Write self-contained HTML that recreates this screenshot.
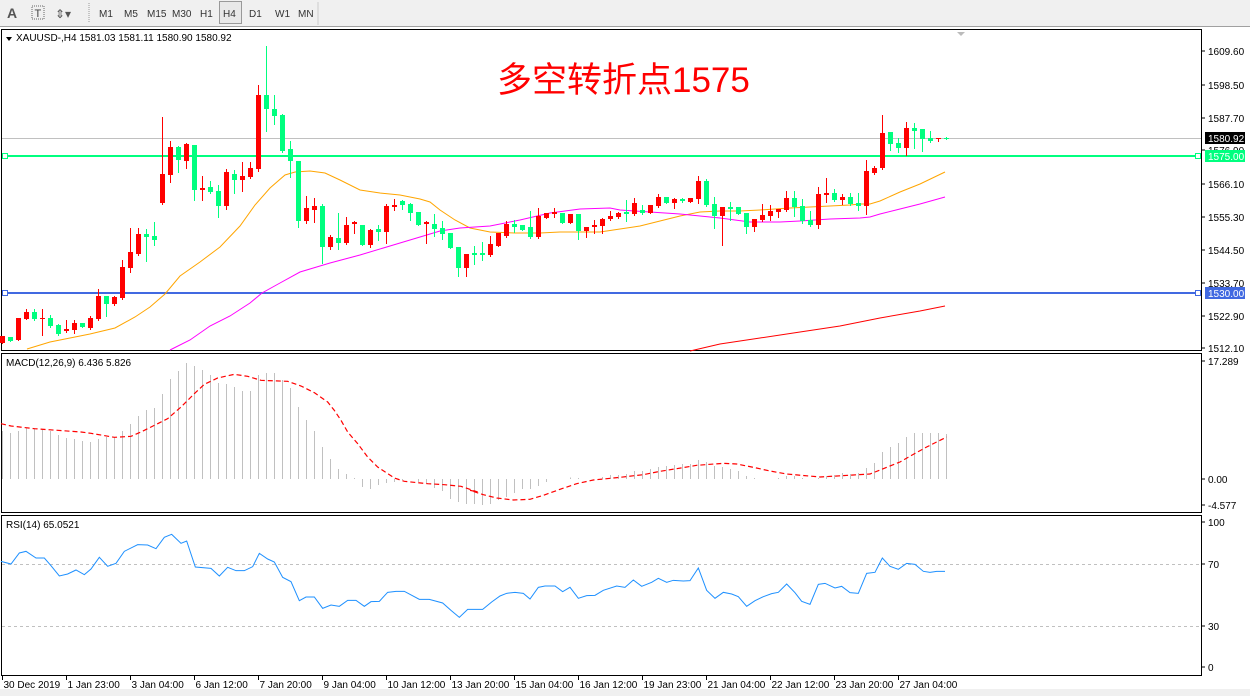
<!DOCTYPE html>
<html><head><meta charset="utf-8">
<style>
body{margin:0;width:1250px;height:696px;overflow:hidden;background:#fff;font-family:"Liberation Sans","Noto Sans CJK SC",sans-serif;}
svg{position:absolute;left:0;top:0}
</style></head><body>
<svg id="s" width="1250" height="696" xmlns="http://www.w3.org/2000/svg" font-family="Liberation Sans, sans-serif" font-size="10">
<rect x="0" y="0" width="1250" height="27" fill="#f0f0f0"/>
<line x1="0" y1="26.5" x2="1250" y2="26.5" stroke="#a0a0a0"/>
<text x="7" y="18" font-size="14" fill="#555" font-weight="bold">A</text>
<rect x="32" y="6" width="12" height="13" fill="none" stroke="#666" stroke-dasharray="1,1"/>
<text x="34.5" y="17" font-size="11" fill="#444">T</text>
<text x="55" y="18" font-size="12" fill="#555">⇕▾</text>
<line x1="89" y1="3" x2="89" y2="23" stroke="#999" stroke-dasharray="1,1"/>
<g font-size="10" fill="#333">
<text x="99" y="17">M1</text><text x="124" y="17">M5</text><text x="147" y="17">M15</text><text x="172" y="17">M30</text><text x="200" y="17">H1</text>
<rect x="219.5" y="1.5" width="22" height="22" fill="#e8e8e8" stroke="#999"/><text x="223" y="17">H4</text>
<text x="249" y="17">D1</text><text x="275" y="17">W1</text><text x="298" y="17">MN</text>
</g>
<line x1="318" y1="2" x2="318" y2="25" stroke="#ccc"/>
<rect x="0" y="689" width="1250" height="7" fill="#f0f0f0"/>
<g fill="none" stroke="#000">
<rect x="1.5" y="29.5" width="1200" height="321"/>
<rect x="1.5" y="353.5" width="1200" height="159"/>
<rect x="1.5" y="515.5" width="1200" height="160"/>
</g>
<g id="dyn"></g>
<text x="497" y="92" font-size="35" fill="#ff0000" font-family="Liberation Sans, Noto Sans CJK SC, sans-serif">多空转折点1575</text>
<path d="M957 32 L965 32 L961 36 Z" fill="#bbb"/>
<path d="M6 37 L12 37 L9 41 Z" fill="#000"/>
<text x="16" y="41" font-size="10">XAUUSD-,H4  1581.03 1581.11 1580.90 1580.92</text>
<text x="6" y="366" font-size="10">MACD(12,26,9) 6.436 5.826</text>
<text x="6" y="528" font-size="10">RSI(14) 65.0521</text>
</svg>
<script>
var g=document.getElementById('dyn'),out='';
function X(i){return 2.5+8*i;}
var pl=[[1609.60,51],[1598.50,85],[1587.70,118],[1576.90,150],[1566.10,184],[1555.30,217],[1544.50,250],[1533.70,283],[1522.90,316],[1512.10,348]];
pl.forEach(function(p){out+='<line x1="1202" y1="'+p[1]+'" x2="1205" y2="'+p[1]+'" stroke="#000"/><text x="1208" y="'+(p[1]+4)+'">'+p[0].toFixed(2)+'</text>';});
out+='<line x1="2" y1="138.5" x2="1201" y2="138.5" stroke="#c0c0c0"/>';
out+='<line x1="2" y1="156" x2="1201" y2="156" stroke="#00ff7f" stroke-width="2"/>';
out+='<line x1="2" y1="293" x2="1201" y2="293" stroke="#4169e1" stroke-width="2"/>';
[[156,'#00ff7f'],[293,'#4169e1']].forEach(function(a){out+='<rect x="2.5" y="'+(a[0]-2.5)+'" width="5" height="5" fill="#fff" stroke="'+a[1]+'"/><rect x="1195.5" y="'+(a[0]-2.5)+'" width="5" height="5" fill="#fff" stroke="'+a[1]+'"/>';});
out+='<rect x="1205" y="132" width="40" height="12" fill="#000"/><text x="1208" y="142" fill="#fff">1580.92</text>';
out+='<rect x="1205" y="150" width="40" height="12" fill="#00ff7f"/><text x="1208" y="160" fill="#fff">1575.00</text>';
out+='<rect x="1205" y="287" width="40" height="12" fill="#4169e1"/><text x="1208" y="297" fill="#fff">1530.00</text>';
function pl2(pts,col,w,extra){out+='<polyline fill="none" stroke="'+col+'" stroke-width="'+(w||1)+'" '+(extra||'')+' points="'+pts.map(function(p){return p.join(',')}).join(' ')+'"/>';}
pl2([[27,349],[50,342],[70,338],[90,334],[115,328],[135,317],[150,307],[165,294],[180,276],[200,262],[220,247],[240,226],[255,205],[270,188],[285,175],[295,172],[310,171],[325,173],[340,180],[360,190],[380,193],[400,195],[420,199],[430,202],[440,210],[455,220],[470,228],[490,232],[515,233],[540,233],[560,232],[600,232],[620,229],[640,226],[660,221],[680,216],[700,212],[720,211],[740,211],[760,210],[790,208],[810,207],[830,206],[850,205],[860,204],[870,204],[880,201],[900,192],[920,184],[945,172]],'#ffa500');
pl2([[170,350],[190,340],[210,326],[230,316],[250,303],[262,293],[280,283],[300,272],[330,263],[360,255],[390,246],[420,237],[440,231],[460,228],[490,226],[520,220],[550,213],[580,209],[610,208],[620,210],[650,212],[680,214],[700,216],[720,218],[735,220],[750,222],[780,222],[800,221],[830,219],[860,218],[870,217],[880,214],[900,209],[920,204],[945,197]],'#ff00ff');
pl2([[690,351],[720,344],[760,338],[800,332],[840,326],[880,318],[920,311],[945,306]],'#ff0000');
var c=[['r',336,343],['g',337,341],['r',318,340],['r',312,319,309,319],['g',312,319,309,320],['r',318,319,309,335],['g',318,326,315,327],['g',325,334,324,335],['r',329,331,320,332],['r',323,330,320,333],['g',323,327],['r',318,328,316,329],['r',296,319,289,320],['g',296,304,296,316],['r',297,304,296,305],['r',267,298,260,299],['r',252,268,228,272],['r',234,254,228,255],['g',234,237,229,261],['g',236,240,222,245],['r',174,203,117,204],['r',147,175,141,182],['g',147,160,146,172],['r',144,161,143,168],['g',145,190,145,200],['r',188,190,176,200],['g',187,192,181,193],['g',191,206,185,217],['r',172,206,169,209],['g',174,180,170,193],['r',176,180,162,191],['r',168,177,162,178],['r',95,169,85,171],['g',95,109,46,131],['g',109,116,95,124],['g',115,151,114,152],['g',149,161,141,177],['g',161,221,161,227],['r',208,221,196,223],['r',206,210,198,222],['g',206,247,204,263],['r',237,247,235,249],['g',238,243,213,249],['r',225,243,217,244],['r',222,224,221,233],['g',225,245],['r',230,245,229,247],['g',229,232,225,240],['r',206,232,204,243],['r',205,207,199,210],['g',201,205,200,209],['g',204,213,203,220],['g',212,225],['r',222,224,221,243],['g',224,229,214,236],['g',228,234,221,239],['g',233,248],['g',247,268,247,276],['r',254,268,254,276],['g',253,255,246,264],['g',253,255,242,260],['r',244,255,236,256],['r',233,246],['r',224,236,221,237],['g',224,227,220,232],['g',225,230],['g',227,237,211,238],['r',216,237,208,238],['r',213,218],['r',212,214,208,217],['g',213,223],['r',214,223],['g',214,231,214,239],['r',227,231,227,237],['r',225,227,220,233],['r',219,226,218,233],['r',216,219,211,220],['r',213,217,212,218],['g',212,214,200,221],['r',203,214,198,215],['g',210,213,205,214],['r',205,213],['r',197,206,194,207],['g',197,203],['r',199,203,198,208],['g',199,201,198,202],['r',198,202],['r',181,199,176,203],['g',181,205,179,206],['g',204,216,197,228],['r',207,216,207,245],['g',207,209,202,220],['g',207,214],['g',213,227,213,233],['r',219,227,219,231],['r',215,220,204,221],['r',211,216,205,220],['r',209,212,209,217],['r',198,210,191,211],['g',198,207,191,216],['g',206,221,199,223],['g',220,225,211,226],['r',194,225,187,228],['r',193,195,178,202],['g',193,200,189,201],['r',197,200,194,204],['g',197,204,193,205],['g',203,206,193,210],['r',171,206,160,214],['r',168,173,166,174],['r',133,168,115,169],['g',132,144,132,150],['g',143,148,138,152],['r',128,148,122,155],['g',128,131,123,148],['g',129,139,129,151],['g',138,141,131,142],['r',138,139,138,141],['g',138,139,137,139]];
c.forEach(function(d,i){var col=d[0]=='r'?'#ff0000':'#00ff7f',x=X(i),t=d[1],b=d[2],h=d.length>3?d[3]:t,l=d.length>3?d[4]:b;
out+='<line x1="'+x+'" y1="'+h+'" x2="'+x+'" y2="'+(l+1)+'" stroke="'+col+'"/>';
out+='<rect x="'+(x-2.5)+'" y="'+t+'" width="5" height="'+Math.max(1,b-t)+'" fill="'+col+'"/>';});
out+='<text x="1208" y="365">17.289</text><text x="1208" y="483">0.00</text><text x="1208" y="509">-4.577</text>';
[361,479,505].forEach(function(y){out+='<line x1="1202" y1="'+y+'" x2="1205" y2="'+y+'" stroke="#000"/>';});
var h=[431,433,431,428,428,429,431,435,438,439,441,442,439,437,437,431,424,416,410,408,394,379,371,363,366,370,375,383,384,387,391,391,375,373,373,380,388,407,420,431,447,459,469,474,478,487,489,485,483,482,480,479,482,483,488,491,499,502,504,504,505,504,500,497,493,489,489,486,482,479,479,477.5,478,479,479,477,475,475,474,471,471,469,467,466,465,464,464,460,462,466,467,469,471,476,478,479,479,478,476,476,478,479,478,476,475,473,474,473,468,463,452,447,443,437,433,433,433,433,434];
h.forEach(function(v,i){var x=X(i);if(Math.abs(v-479)<0.6)return;out+='<line x1="'+x+'" y1="'+Math.min(v,479)+'" x2="'+x+'" y2="'+Math.max(v,479)+'" stroke="#c0c0c0"/>';});
var s1=[[0,215],[30,222],[100,230],[170,235],[240,240],[270,244],[340,256],[390,253],[420,240],[470,215],[500,200],[540,165],[580,125],[610,97],[650,78],[700,67],[740,73],[780,85],[860,88],[900,102],[940,122],[980,150],[1000,175],[1020,205],[1040,240],[1070,275],[1100,315],[1130,345],[1180,378],[1210,388],[1280,395],[1330,398],[1380,403],[1430,420]].map(function(p){return [p[0]/3+1,352+p[1]/3];});
var s2=[[0,415],[40,428],[80,438],[130,444],[180,442],[220,430],[270,412],[320,395],[370,384],[450,376],[520,368],[570,358],[620,350],[680,340],[760,334],[800,336],[850,346],[900,357],[950,366],[1050,375],[1150,369],[1200,366],[1240,350],[1290,330],[1330,307],[1370,285],[1420,260],[1430,255]].map(function(p){return [470+p[0]/3,352+p[1]/3];});
pl2(s1.concat(s2),'#ff0000',1.2,'stroke-dasharray="5,3"');
out+='<line x1="2" y1="564.5" x2="1201" y2="564.5" stroke="#c0c0c0" stroke-dasharray="3,3"/><line x1="2" y1="626.5" x2="1201" y2="626.5" stroke="#c0c0c0" stroke-dasharray="3,3"/>';
[[100,522],[70,564],[30,626],[0,667]].forEach(function(a){out+='<line x1="1202" y1="'+a[1]+'" x2="1205" y2="'+a[1]+'" stroke="#000"/><text x="1208" y="'+(a[1]+4)+'">'+a[0]+'</text>';});
var r1=[[0,142],[30,150],[55,117],[75,112],[105,132],[130,132],[150,155],[175,186],[200,180],[225,168],[250,182],[270,165],[295,130],[320,157],[345,148],[370,112],[410,92],[440,93],[465,104],[490,70],[512,61],[540,88],[557,81],[583,159],[630,163],[655,186],[680,160],[705,170],[730,170],[755,158],[775,118],[800,135],[820,144],[845,190],[870,203],[895,260],[915,249],[940,249],[965,283],[990,273],[1015,277],[1040,259],[1065,259],[1090,277],[1110,263],[1135,262],[1160,235],[1185,232],[1210,232],[1255,256],[1285,256],[1325,267],[1350,289],[1375,310],[1400,286],[1410,286]].map(function(p){return [p[0]/3+1,514+p[1]/3];});
var r2=[[0,286],[38,286],[65,264],[90,246],[110,238],[135,235],[160,238],[180,255],[205,220],[225,216],[255,216],[278,233],[300,220],[325,253],[350,245],[375,244],[400,229],[440,216],[465,220],[490,198],[515,217],[545,205],[565,193],[590,205],[610,199],[640,201],[660,200],[685,162],[710,229],[735,253],[760,235],[785,240],[805,248],[830,277],[855,260],[880,248],[905,239],[925,235],[950,210],[975,236],[995,262],[1020,271],[1045,211],[1065,208],[1095,222],[1115,217],[1140,236],[1165,238],[1190,178],[1215,175],[1237,132],[1260,157],[1285,166],[1310,148],[1335,151],[1360,172],[1380,175],[1400,172],[1425,172]].map(function(p){return [470+p[0]/3,514+p[1]/3];});
pl2(r1.concat(r2),'#1e90ff',1);
var tl=['30 Dec 2019','1 Jan 23:00','3 Jan 04:00','6 Jan 12:00','7 Jan 20:00','9 Jan 04:00','10 Jan 12:00','13 Jan 20:00','15 Jan 04:00','16 Jan 12:00','19 Jan 23:00','21 Jan 04:00','22 Jan 12:00','23 Jan 20:00','27 Jan 04:00'];
tl.forEach(function(t,i){var x=2.5+64*i;out+='<line x1="'+x+'" y1="676" x2="'+x+'" y2="680" stroke="#000"/><text x="'+(x+1)+'" y="688">'+t+'</text>';});
g.innerHTML=out;
</script>
</body></html>
